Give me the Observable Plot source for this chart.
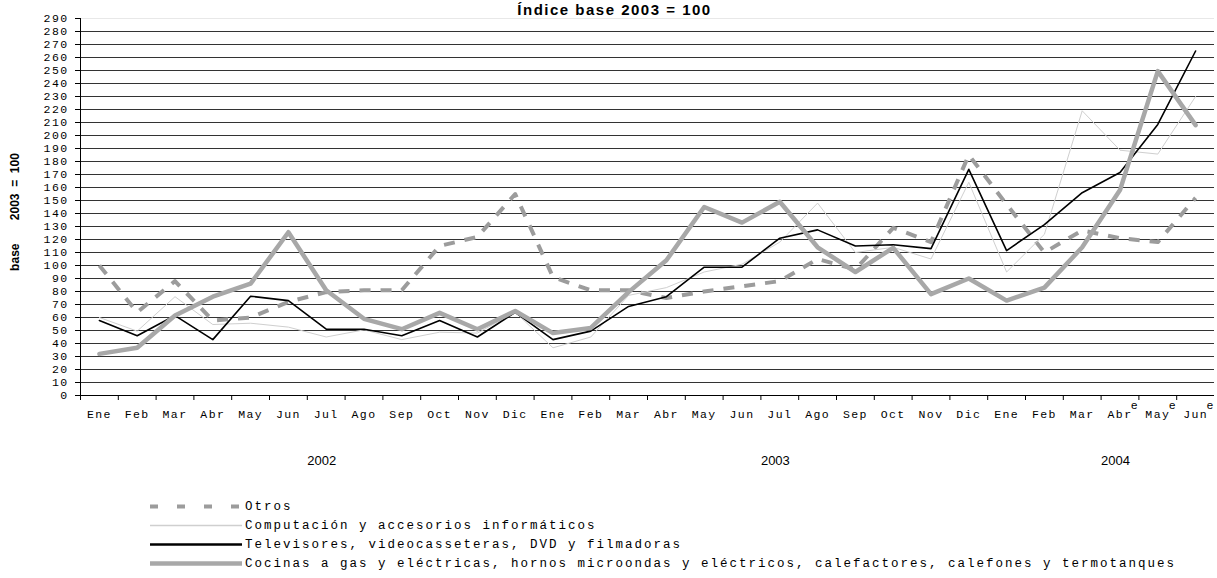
<!DOCTYPE html>
<html><head><meta charset="utf-8">
<script src="https://cdn.jsdelivr.net/npm/d3@7"></script>
<script src="https://cdn.jsdelivr.net/npm/@observablehq/plot@0.6"></script>
<style>
body{margin:0;background:#fff;}
#wrap{position:relative;width:1217px;height:578px;overflow:hidden;background:#fff;}
#title{position:absolute;left:0;top:2px;width:1217px;text-align:center;font:bold 15px "Liberation Sans",Arial,sans-serif;line-height:15px;letter-spacing:1.5px;padding-left:12px;box-sizing:border-box;color:#000;}
#chart{position:absolute;left:0;top:0;}
#legend{position:absolute;left:150px;top:497px;font-family:"Liberation Mono",monospace;font-size:12.5px;letter-spacing:2px;color:#000;}
.row{display:flex;align-items:center;height:19px;white-space:nowrap;}
.row svg{width:92px;height:19px;margin-right:3px;flex:none;}
</style></head>
<body>
<div id="wrap">
  <div id="chart"></div>
  <div id="title">Índice base 2003 = 100</div>
  <div id="legend"></div>
</div>
<script>
// ---- Data ----
const meses = ["Ene","Feb","Mar","Abr","May","Jun","Jul","Ago","Sep","Oct","Nov","Dic",
               "Ene","Feb","Mar","Abr","May","Jun","Jul","Ago","Sep","Oct","Nov","Dic",
               "Ene","Feb","Mar","Abr","May","Jun"];
const anios = ["2002","2003","2004"];
const mesesPorAnio = [12, 12, 6];
const estimados2004 = ["Abr","May","Jun"];

const otros       = [100, 64, 88, 57.7, 60, 72, 79.5, 81, 81, 115, 122, 155,
                     91, 81, 81, 75, 80, 84, 88, 105, 97, 129, 118, 185,
                     147, 110, 127, 121, 118, 152];
const computacion = [60, 49.5, 76, 54.6, 55.6, 52.6, 45, 50.5, 43, 48.7, 48, 64,
                     36.7, 45, 77, 83, 95, 101, 118, 148, 110, 114, 105, 164,
                     95, 124, 219, 188.7, 185.7, 230];
const televisores = [57.7, 46, 61.5, 43, 76.4, 73, 51, 51, 46, 57.7, 45, 64,
                     43, 49.5, 68.5, 76, 98.7, 98.7, 121, 127.4, 115, 116, 113, 174,
                     111.5, 131.5, 156, 171.5, 208.5, 265];
const cocinas     = [32, 36.7, 61.5, 76, 86, 125.6, 81, 59, 51, 63.6, 51, 65,
                     48, 52, 79.5, 104, 145, 133, 149, 114, 95, 113.6, 78, 90,
                     73, 83, 114, 158, 249.5, 208];

const series = [
  {key:"otros", name:"Otros", stroke:"#9c9c9c", width:4, dash:"11,10", legendDash:"8,19"},
  {key:"computacion", name:"Computación y accesorios informáticos", stroke:"#cfcfcf", width:1},
  {key:"televisores", name:"Televisores, videocasseteras, DVD y filmadoras", stroke:"#000", width:1.6},
  {key:"cocinas", name:"Cocinas a gas y eléctricas, hornos microondas y eléctricos, calefactores, calefones y termotanques", stroke:"#a8a8a8", width:4.5}
];

// ---- Build table ----
const anioDe = [];
anios.forEach((a, j) => { for (let k = 0; k < mesesPorAnio[j]; k++) anioDe.push(a); });
const rows = meses.map((m, i) => ({
  i, mes: m, anio: anioDe[i],
  otros: otros[i], computacion: computacion[i], televisores: televisores[i], cocinas: cocinas[i]
}));
let start = 0;
const yearRows = anios.map((a, j) => { const c = start + mesesPorAnio[j] / 2; start += mesesPorAnio[j]; return {anio: a, centro: c}; });
const xc = d => d.i + 0.5;

const lineMarks = series.map(s => Plot.line(rows, {
  x: xc, y: s.key, stroke: s.stroke, strokeWidth: s.width,
  strokeDasharray: s.dash, strokeLinejoin: "round", strokeLinecap: s.dash ? "butt" : "round"
}));

const yTitle = "base\u00a0\u00a0\u00a0\u00a0\u00a0\u00a0\u00a02003\u00a0\u00a0=\u00a0\u00a0100";

const chart = Plot.plot({
  width: 1217, height: 490,
  marginTop: 18, marginLeft: 80, marginRight: 3, marginBottom: 95,
  x: {domain: [0, meses.length], axis: null},
  y: {domain: [0, 290], axis: null},
  style: {fontFamily: "Liberation Mono, monospace", fontSize: "11.5px", letterSpacing: "1.4px", color: "#000", background: "#fff"},
  marks: [
    Plot.ruleY(d3.range(10, 290, 10), {stroke: "#333", strokeWidth: 1}),
    Plot.ruleY([290], {stroke: "#e8e8e8"}),
    ...lineMarks,
    Plot.ruleX([0], {stroke: "#000"}),
    Plot.ruleY([0], {stroke: "#000"}),
    Plot.axisY({ticks: d3.range(0, 291, 10), tickSize: 5, tickPadding: 7, label: null, tickFormat: d => String(d)}),
    Plot.axisX({ticks: d3.range(0, meses.length), tickSize: 5, tickFormat: () => "", label: null}),
    Plot.text(rows, {x: xc, text: "mes", frameAnchor: "bottom", dy: 22}),
    Plot.text(rows.filter(d => d.anio === "2004" && estimados2004.includes(d.mes)), {x: xc, text: () => "e", frameAnchor: "bottom", dx: 15, dy: 13.5}),
    Plot.text(yearRows, {x: "centro", text: "anio", frameAnchor: "bottom", dy: 69, textAnchor: "start", fontFamily: "Liberation Sans", fontSize: 13}),
    Plot.text([yTitle], {frameAnchor: "left", dx: -65, dy: 5, rotate: -90, textAnchor: "middle", fontWeight: "bold", fontFamily: "Liberation Sans", fontSize: 12})
  ]
});
d3.select(chart).selectAll('g[font-family="Liberation Sans"]').style("letter-spacing", "0px");
document.getElementById("chart").appendChild(chart);

// ---- Legend ----
const leg = d3.select("#legend");
series.forEach(s => {
  const r = leg.append("div").attr("class", "row");
  const sv = r.append("svg").attr("viewBox", "0 0 92 19");
  sv.append("line").attr("x1", 0).attr("x2", 92).attr("y1", 9.5).attr("y2", 9.5)
    .attr("stroke", s.stroke).attr("stroke-width", s.key === "computacion" ? 1.5 : (s.key === "televisores" ? 2.5 : s.width))
    .attr("stroke-dasharray", s.legendDash || null);
  r.append("span").text(s.name);
});
</script>
</body></html>
